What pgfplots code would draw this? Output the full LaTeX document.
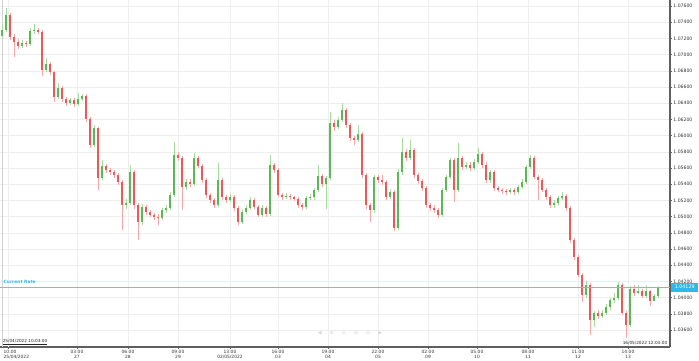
\documentclass[border=0pt]{standalone}
\usepackage{pgfplots}
\usepackage{pgfplotstable}
\pgfplotsset{compat=1.18}
\usepackage{fontspec}
\setmainfont{DejaVu Sans}
\definecolor{currate}{RGB}{80,205,245}
\definecolor{curbox}{RGB}{45,185,235}
\definecolor{gridc}{RGB}{238,238,238}
\definecolor{axc}{RGB}{95,95,95}
\pgfplotsset{
  colormap={bodycm}{rgb255=(238,88,88) rgb255=(92,184,84)},
  colormap={wickcm}{rgb255=(246,168,168) rgb255=(168,220,158)},
}
\pgfplotstableread{
x o h l c
2 1.07231 1.07366 1.07206 1.07305
6 1.07305 1.07576 1.07280 1.07490
10 1.07490 1.07520 1.07180 1.07218
14 1.07218 1.07250 1.06971 1.07157
18 1.07157 1.07190 1.07070 1.07107
22 1.07107 1.07180 1.07080 1.07144
26 1.07144 1.07170 1.07100 1.07132
30 1.07132 1.07330 1.07110 1.07292
34 1.07292 1.07379 1.07260 1.07305
38 1.07305 1.07330 1.07250 1.07280
42 1.07280 1.07300 1.06737 1.06811
46 1.06811 1.06960 1.06790 1.06885
50 1.06885 1.06910 1.06750 1.06786
54 1.06786 1.06800 1.06416 1.06477
58 1.06477 1.06650 1.06450 1.06589
62 1.06589 1.06610 1.06420 1.06453
66 1.06453 1.06480 1.06370 1.06403
70 1.06403 1.06470 1.06380 1.06440
74 1.06440 1.06460 1.06360 1.06391
78 1.06391 1.06527 1.06370 1.06453
82 1.06453 1.06520 1.06430 1.06490
86 1.06490 1.06510 1.06170 1.06206
90 1.06206 1.06230 1.05848 1.05885
94 1.05885 1.06130 1.05860 1.06095
98 1.06095 1.06110 1.05329 1.05477
102 1.05477 1.05700 1.05450 1.05626
106 1.05626 1.05650 1.05540 1.05576
110 1.05576 1.05600 1.05520 1.05552
114 1.05552 1.05580 1.05480 1.05514
118 1.05514 1.05540 1.05390 1.05428
122 1.05428 1.05450 1.04835 1.05144
126 1.05144 1.05220 1.05100 1.05169
130 1.05169 1.05638 1.05140 1.05552
134 1.05552 1.05580 1.05100 1.05144
138 1.05144 1.05170 1.04712 1.04934
142 1.04934 1.05160 1.04900 1.05119
146 1.05119 1.05150 1.05020 1.05058
150 1.05058 1.05080 1.04990 1.05021
154 1.05021 1.05050 1.04960 1.04996
158 1.04996 1.05030 1.04897 1.04984
162 1.04984 1.05110 1.04960 1.05082
166 1.05082 1.05140 1.05050 1.05107
170 1.05107 1.05300 1.05080 1.05268
174 1.05268 1.05922 1.05240 1.05761
178 1.05761 1.05800 1.05690 1.05724
182 1.05724 1.05750 1.05082 1.05366
186 1.05366 1.05470 1.05330 1.05428
190 1.05428 1.05460 1.05370 1.05403
194 1.05403 1.05786 1.05380 1.05724
198 1.05724 1.05750 1.05600 1.05626
202 1.05626 1.05650 1.05420 1.05453
206 1.05453 1.05480 1.05230 1.05268
210 1.05268 1.05290 1.05170 1.05206
214 1.05206 1.05230 1.05110 1.05144
218 1.05144 1.05663 1.05120 1.05453
222 1.05453 1.05480 1.05210 1.05243
226 1.05243 1.05270 1.05170 1.05206
230 1.05206 1.05280 1.05180 1.05243
234 1.05243 1.05270 1.05070 1.05107
238 1.05107 1.05130 1.04897 1.04934
242 1.04934 1.05090 1.04910 1.05058
246 1.05058 1.05140 1.05030 1.05107
250 1.05107 1.05240 1.05080 1.05206
254 1.05206 1.05230 1.05090 1.05119
258 1.05119 1.05140 1.04990 1.05021
262 1.05021 1.05140 1.04990 1.05107
266 1.05107 1.05130 1.05000 1.05033
270 1.05033 1.05761 1.05010 1.05638
274 1.05638 1.05660 1.05540 1.05576
278 1.05576 1.05600 1.05240 1.05268
282 1.05268 1.05290 1.05210 1.05243
286 1.05243 1.05290 1.05220 1.05255
290 1.05255 1.05280 1.05210 1.05243
294 1.05243 1.05260 1.05190 1.05218
298 1.05218 1.05240 1.05110 1.05144
302 1.05144 1.05170 1.05080 1.05119
306 1.05119 1.05260 1.05090 1.05230
310 1.05230 1.05280 1.05200 1.05243
314 1.05243 1.05360 1.05210 1.05329
318 1.05329 1.05638 1.05300 1.05502
322 1.05502 1.05530 1.05370 1.05403
326 1.05403 1.05500 1.05100 1.05477
330 1.05477 1.06292 1.05450 1.06156
334 1.06156 1.06190 1.06060 1.06107
338 1.06107 1.06230 1.06080 1.06194
342 1.06194 1.06403 1.06170 1.06317
346 1.06317 1.06340 1.06100 1.06132
350 1.06132 1.06160 1.05940 1.05971
354 1.05971 1.06000 1.05880 1.05947
358 1.05947 1.06132 1.05920 1.06021
362 1.06021 1.06050 1.05480 1.05514
366 1.05514 1.05540 1.05100 1.05144
370 1.05144 1.05170 1.04934 1.05082
374 1.05082 1.05520 1.05050 1.05490
378 1.05490 1.05520 1.05420 1.05453
382 1.05453 1.05510 1.05390 1.05428
386 1.05428 1.05450 1.05210 1.05243
390 1.05243 1.05340 1.05220 1.05305
394 1.05305 1.05330 1.04823 1.04860
398 1.04860 1.05590 1.04840 1.05552
402 1.05552 1.05971 1.05520 1.05798
406 1.05798 1.05830 1.05690 1.05724
410 1.05724 1.05947 1.05700 1.05823
414 1.05823 1.05850 1.05480 1.05514
418 1.05514 1.05540 1.05400 1.05440
422 1.05440 1.05470 1.05320 1.05354
426 1.05354 1.05380 1.05110 1.05144
430 1.05144 1.05170 1.05070 1.05107
434 1.05107 1.05140 1.05040 1.05082
438 1.05082 1.05110 1.04984 1.05021
442 1.05021 1.05360 1.04990 1.05329
446 1.05329 1.05520 1.05300 1.05490
450 1.05490 1.05730 1.05460 1.05700
454 1.05700 1.05730 1.05181 1.05329
458 1.05329 1.05910 1.05300 1.05724
462 1.05724 1.05750 1.05580 1.05613
466 1.05613 1.05670 1.05590 1.05638
470 1.05638 1.05670 1.05570 1.05601
474 1.05601 1.05710 1.05580 1.05675
478 1.05675 1.05848 1.05650 1.05774
482 1.05774 1.05800 1.05600 1.05638
486 1.05638 1.05670 1.05420 1.05453
490 1.05453 1.05580 1.05420 1.05552
494 1.05552 1.05580 1.05320 1.05354
498 1.05354 1.05380 1.05300 1.05329
502 1.05329 1.05350 1.05280 1.05317
506 1.05317 1.05340 1.05270 1.05305
510 1.05305 1.05360 1.05280 1.05329
514 1.05329 1.05350 1.05270 1.05305
518 1.05305 1.05390 1.05280 1.05366
522 1.05366 1.05460 1.05340 1.05428
526 1.05428 1.05640 1.05400 1.05613
530 1.05613 1.05761 1.05590 1.05724
534 1.05724 1.05750 1.05460 1.05490
538 1.05490 1.05520 1.05206 1.05453
542 1.05453 1.05480 1.05300 1.05329
546 1.05329 1.05360 1.05210 1.05243
550 1.05243 1.05270 1.05110 1.05144
554 1.05144 1.05200 1.05110 1.05169
558 1.05169 1.05260 1.05140 1.05230
562 1.05230 1.05300 1.05200 1.05255
566 1.05255 1.05280 1.05070 1.05107
570 1.05107 1.05130 1.04680 1.04712
574 1.04712 1.04740 1.04470 1.04502
578 1.04502 1.04530 1.04250 1.04280
582 1.04280 1.04300 1.03950 1.04033
586 1.04033 1.04200 1.03990 1.04156
590 1.04156 1.04180 1.03539 1.03724
594 1.03724 1.03840 1.03640 1.03811
598 1.03811 1.03850 1.03740 1.03774
602 1.03774 1.03850 1.03750 1.03811
606 1.03811 1.03920 1.03780 1.03885
610 1.03885 1.04000 1.03850 1.03971
614 1.03971 1.04060 1.03940 1.03996
618 1.03996 1.04193 1.03970 1.04156
622 1.04156 1.04180 1.03780 1.03811
626 1.03811 1.03840 1.03502 1.03663
630 1.03663 1.04140 1.03640 1.04107
634 1.04107 1.04160 1.04020 1.04058
638 1.04058 1.04160 1.04040 1.04082
642 1.04082 1.04110 1.03990 1.04021
646 1.04021 1.04160 1.04000 1.04082
650 1.04082 1.04100 1.03900 1.03959
654 1.03959 1.04050 1.03990 1.04021
658 1.04021 1.04150 1.04000 1.04129
}\candles

\begin{document}
\begin{tikzpicture}
\useasboundingbox (0,0) rectangle (699pt,361pt);
\begin{axis}[
  at={(0pt,14pt)}, anchor=south west,
  width=670pt, height=347pt, scale only axis,
  xmin=0, xmax=670, ymin=1.03391, ymax=1.07675,
  clip=false,
  axis x line*=bottom, axis y line*=right,
  x axis line style={draw=axc, line width=1.6pt, -},
  y axis line style={draw=axc, line width=1.1pt, -},
  tick align=outside, major tick length=2pt,
  tick style={draw=axc, line width=0.5pt},
  grid=major, major grid style={draw=gridc, line width=0.6pt},
  scaled y ticks=false,
  ytick={1.036,1.038,1.040,1.042,1.044,1.046,1.048,1.050,1.052,1.054,1.056,1.058,1.060,1.062,1.064,1.066,1.068,1.070,1.072,1.074,1.076},
  yticklabel style={font=\fontsize{4.6}{5}\selectfont, text=black!80, inner sep=1.2pt,
    /pgf/number format/.cd, fixed, fixed zerofill, precision=5, assume math mode=true},
  xtick={77,128,178,230,278,328,378,428,477,528,578,628},
  xticklabels={{03:00\\27},{06:00\\28},{09:00\\29},{13:00\\02/05/2022},{16:00\\03},{19:00\\04},{22:00\\05},{02:00\\09},{05:00\\10},{08:00\\11},{11:00\\12},{14:00\\13}},
  xticklabel style={align=center, font=\fontsize{4.4}{4.6}\selectfont, text=black!80, inner sep=1pt},
  extra x ticks={8},
  extra x tick labels={{10:00\\25/04/2022}},
  extra x tick style={xticklabel style={anchor=north west, align=left, xshift=-5.5pt}},
]
% left border
\draw[draw=gray!35, line width=0.6pt] (rel axis cs:0.004,0) -- (rel axis cs:0.004,1);
% wicks
\addplot[quiver={u=0, v=\thisrow{h}-\thisrow{l}, colored=mapped color},
  colormap name=wickcm, point meta={\thisrow{c}>\thisrow{o}},
  point meta min=0, point meta max=1, line width=0.75pt]
  table[x=x, y=l] {\candles};
% bodies
\addplot[quiver={u=0, v=\thisrow{c}-\thisrow{o}, colored=mapped color},
  colormap name=bodycm, point meta={\thisrow{c}>\thisrow{o}},
  point meta min=0, point meta max=1, line width=2.2pt]
  table[x=x, y=o] {\candles};
% current rate line
\draw[currate, line width=1.3pt] (axis cs:0,1.04129) -- (axis cs:670,1.04129);
\node[anchor=south west, inner sep=0.5pt, text=curbox, font=\bfseries\fontsize{4.4}{4.6}\selectfont] at (axis cs:3,1.04160) {Current Rate};
\node[anchor=west, fill=curbox, text=white, inner sep=1.3pt, font=\fontsize{4.8}{5}\selectfont, minimum width=27pt, minimum height=9pt] at (axis cs:671,1.04129) {1.04129};
% date stamps
\node[anchor=south west, inner sep=0.6pt, text=black!85, font=\fontsize{4.2}{4.4}\selectfont] at (rel axis cs:0.003,0.004) {\underline{25/04/2022 10:03:00}};
\node[anchor=south east, inner sep=0.6pt, text=black!85, font=\fontsize{4.2}{4.4}\selectfont] at (rel axis cs:0.997,0.004) {16/05/2022 12:03:00};
% faint navigation icons
\node[text=gray!30, font=\fontsize{5}{5}\selectfont, inner sep=0pt] at (axis cs:350,1.0356) {◀\hspace{8pt}⊕\hspace{8pt}⊖\hspace{8pt}⊞\hspace{8pt}⊟\hspace{8pt}▶};
\end{axis}
\end{tikzpicture}
\end{document}
